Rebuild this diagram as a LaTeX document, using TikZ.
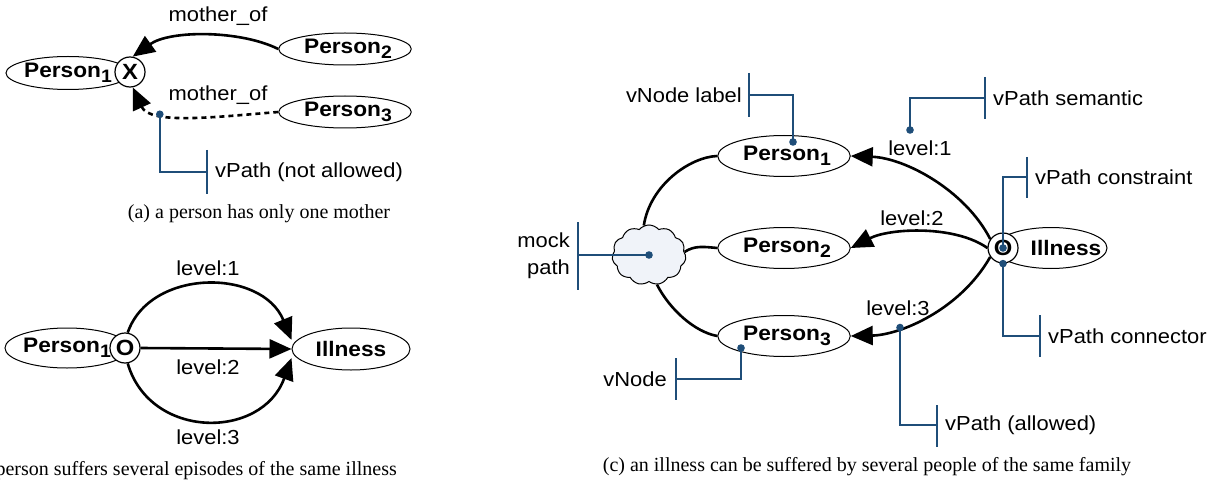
\documentclass[tikz,border=0pt]{standalone}
\usepackage{fontspec}
\setmainfont{Liberation Serif}
\setsansfont{Liberation Sans}[FakeStretch=1.08]
\usetikzlibrary{arrows.meta,shapes.geometric,shapes.symbols,calc}
\definecolor{vblue}{RGB}{31,78,121}
\definecolor{cloudfill}{RGB}{240,243,249}
\newcommand\sbx[1]{\raisebox{-0.25em}{\fontsize{18}{18}\selectfont #1}}
\begin{document}
\begin{tikzpicture}[x=1pt,y=-1pt,
  lbl/.style={font=\sffamily\fontsize{20.3}{22}\selectfont, inner sep=0pt},
  ent/.style={draw, ellipse, line width=1pt, fill=white, minimum width=118pt, minimum height=38pt, inner sep=0pt, font=\sffamily\bfseries\fontsize{21}{22}\selectfont},
  oc/.style={draw, circle, line width=1.2pt, fill=white, minimum size=30pt, inner sep=0pt, font=\sffamily\bfseries\fontsize{22}{22}\selectfont},
  conn/.style={draw, line width=2.6pt, -{Triangle[length=22pt,width=19pt]}},
  plain/.style={draw, line width=2.6pt},
  call/.style={draw=vblue, line width=2.2pt},
  barline/.style={draw=vblue, line width=2.8pt},
  dotc/.style={fill=vblue},
  captext/.style={font=\rmfamily\fontsize{20}{22}\selectfont, inner sep=0pt}]
\useasboundingbox (0,0) rectangle (1222,489);

% ---------------- panel (a)
\node[ent, minimum width=118pt, minimum height=33pt] (a1) at (68,73) {Person\sbx{1}\hspace{6pt}};
\node[oc] (ax) at (130,72) {X};
\node[ent, minimum width=119pt, minimum height=32pt] (a2) at (345,49) {\hspace{6pt}Person\sbx{2}};
\node[ent, minimum width=119pt, minimum height=32pt] (a3) at (345,112) {\hspace{6pt}Person\sbx{3}};
\draw[conn] (a2.west) .. controls (240,30) and (170,30) .. (ax.80);
\draw[conn, dash pattern=on 5pt off 4pt] (a3.west) .. controls (215,117) and (150,125) .. (ax.-80) coordinate[pos=0.7, yshift=-4pt] (adot);
\node[lbl] (am1) at (218,16) {mother\_of};
\node[lbl] (am2) at (218,95) {mother\_of};
\coordinate (abar) at (207,172);
\draw[call] (adot) |- (abar);
\draw[barline] (207,150) -- (207,194);
\fill[dotc] (adot) circle (3.8);
\node[lbl, anchor=west] (avp) at (215,172) {vPath (not allowed)};
\node[captext] (capa) at (259,214) {(a) a person has only one mother};

% ---------------- panel (b)
\node[ent, minimum width=122pt, minimum height=40pt] (b1) at (67,348) {Person\sbx{1}\hspace{8pt}};
\node[ent, minimum width=118pt, minimum height=42pt] (bi) at (351,349) {Illness};
\node[oc] (bo) at (125,348) {O};
\draw[conn] (bo.east) -- (bi.west);
\draw[conn] (bo.80) .. controls (150,268) and (262,268) .. ($(bi.west)+(0,-9)$);
\draw[conn] (bo.-80) .. controls (150,440) and (262,440) .. ($(bi.west)+(0,9)$);
\node[lbl] (bl1) at (208,268) {level:1};
\node[lbl] (bl2) at (208,367) {level:2};
\node[lbl] (bl3) at (208,437) {level:3};
\node[captext, anchor=east] (capb) at (397,471) {(b) a person suffers several episodes of the same illness};

% ---------------- panel (c)
\node[ent, minimum width=118pt, minimum height=41pt] (c1) at (784,156) {\hspace{6pt}Person\sbx{1}};
\node[ent, minimum width=118pt, minimum height=41pt] (c2) at (784,248) {\hspace{6pt}Person\sbx{2}};
\node[ent, minimum width=118pt, minimum height=41pt] (c3) at (784,336) {\hspace{6pt}Person\sbx{3}};
\node[cloud, draw, cloud puffs=11, cloud puff arc=100, aspect=1.2, minimum width=74pt, minimum height=60pt, inner sep=0pt, fill=cloudfill, line width=1pt] (ck) at (649,255) {};
\node[ent, minimum width=112pt, minimum height=41pt] (ci) at (1051,248) {};
\node[oc] (co) at (1003,248) {O};
\node[font=\sffamily\bfseries\fontsize{21}{22}\selectfont, inner sep=0pt] (cit) at (1066,248) {Illness};

\draw[plain] (ck.100) .. controls (650,185) and (690,157) .. (c1.west);
\draw[plain] (ck.5) .. controls (695,245) and (705,247) .. (c2.west);
\draw[plain] (ck.-75) .. controls (670,310) and (695,332) .. (c3.west);

\draw[conn] (co.145) .. controls (965,190) and (905,158) .. (c1.east);
\draw[conn] (co.west) .. controls (955,225) and (890,228) .. (c2.east);
\draw[conn] (co.215) .. controls (960,310) and (900,335) .. (c3.east) coordinate[pos=0.68] (cdot);

\node[lbl] (cl1) at (920,148) {level:1};
\node[lbl] (cl2) at (912,218) {level:2};
\node[lbl] (cl3) at (898,308) {level:3};

% callouts
\coordinate (d1) at (793,142);
\coordinate (b1c) at (749,95);
\draw[call] (d1) |- (b1c);
\draw[barline] (749,73) -- (749,117);
\fill[dotc] (d1) circle (3.8);
\node[lbl, anchor=east] (t1) at (742,95) {vNode label};

\coordinate (d2) at (910,130);
\coordinate (b2c) at (985,98);
\draw[call] (d2) |- (b2c);
\draw[barline] (985,77) -- (985,119);
\fill[dotc] (d2) circle (3.8);
\node[lbl, anchor=west] (t2) at (993,98) {vPath semantic};

\coordinate (b3c) at (1027,177);
\draw[call] (co.center) |- (b3c);
\draw[barline] (1027,157) -- (1027,198);
\fill[dotc] (co.center) circle (3.8);
\node[lbl, anchor=west] (t3) at (1035,177) {vPath constraint};

\coordinate (b4c) at (1040,336);
\draw[call] (co.south) |- (b4c);
\draw[barline] (1040,315) -- (1040,357);
\fill[dotc] (co.south) circle (3.8);
\node[lbl, anchor=west] (t4) at (1048,336) {vPath connector};

\coordinate (b5c) at (937,425);
\draw[call] (cdot) |- (b5c);
\draw[barline] (937,405) -- (937,447);
\fill[dotc] (cdot) circle (3.8);
\node[lbl, anchor=west] (t5) at (945,425) {vPath (allowed)};

\coordinate (d6) at (741,348);
\coordinate (b6c) at (676,379);
\draw[call] (d6) |- (b6c);
\draw[barline] (676,358) -- (676,400);
\fill[dotc] (d6) circle (3.8);
\node[lbl, anchor=east] (t6) at (667,379) {vNode};

\coordinate (b7c) at (578,255);
\draw[call] (ck.center) -- (b7c);
\draw[barline] (578,222) -- (578,290);
\fill[dotc] (ck.center) circle (3.8);
\node[lbl, anchor=east, align=right, font=\sffamily\fontsize{20.3}{27}\selectfont] (t7) at (570,256) {mock\\path};

\node[captext] (capc) at (867,467) {(c) an illness can be suffered by several people of the same family};
\end{tikzpicture}
\end{document}
